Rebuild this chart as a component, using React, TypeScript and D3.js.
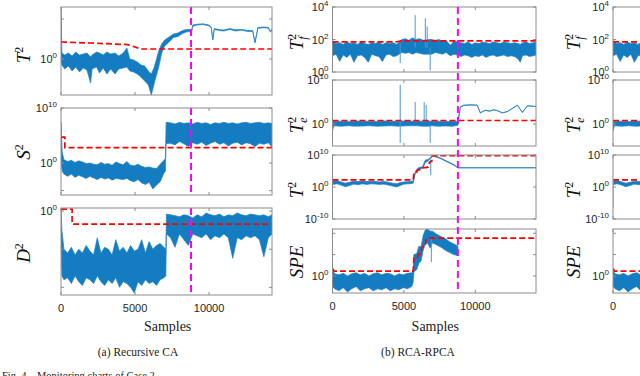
import React from 'react';
import * as d3 from 'd3';

// all values are log10 exponents: [sample, low, high]
const caT2Band = [
  [0, -0.2, 2.6], [60, -0.3, 0.3], [250, -0.5, 0.2], [500, -0.35, 0.3], [750, -0.6, 0.15],
  [1000, -0.4, 0.35], [1250, -0.65, 0.2], [1500, -0.45, 0.25], [1750, -0.55, 0.3], [2000, -1.2, 0.1],
  [2100, -0.5, 0.2], [2400, -0.4, 0.35], [2600, -0.7, 0.3], [2850, -0.45, 0.2], [3100, -0.75, 0.35],
  [3350, -0.5, 0.25], [3650, -0.75, 0.3], [3900, -0.5, 0.15], [4200, -0.45, 0.3], [4450, -0.4, 0.55],
  [4650, -0.6, 0.0], [4900, -0.65, -0.05], [5150, -0.75, -0.15], [5400, -0.9, -0.3], [5650, -1.1, -0.35],
  [5900, -1.3, -0.6], [6100, -1.8, -0.75], [6300, -1.2, -0.4], [6450, -0.8, 0.0], [6600, -0.4, 0.4],
  [6800, 0.3, 0.75], [7000, 0.65, 0.95], [7300, 0.85, 1.1], [7600, 1.08, 1.25], [7900, 1.12, 1.3],
  [8200, 1.27, 1.42], [8500, 1.36, 1.48], [8700, 1.37, 1.47], [8780, 1.22, 1.28], [8900, 1.64, 1.7],
  [9200, 1.7, 1.74], [9600, 1.72, 1.76], [10000, 1.66, 1.7], [10150, 1.54, 1.58], [10250, 0.95, 0.98],
  [10350, 1.48, 1.52], [10700, 1.42, 1.47], [11000, 1.4, 1.45], [11400, 1.48, 1.52], [11800, 1.4, 1.46],
  [12200, 1.44, 1.48], [12600, 1.38, 1.43], [12950, 1.38, 1.42], [13100, 0.8, 0.84], [13300, 1.54, 1.58],
  [13700, 1.56, 1.6], [14000, 1.54, 1.58], [14150, 1.34, 1.38], [14250, 1.46, 1.5],
];
const caT2Thr = [[0, 0.85], [2000, 0.8], [4500, 0.72], [5000, 0.6], [5400, 0.5], [14250, 0.5]];

const caS2Band = [
  [0, 0, 7.5], [80, -1.5, 2.0], [200, -2.0, 0.6], [450, -2.4, 0.3], [700, -2.0, 0.5],
  [950, -2.6, 0.1], [1200, -2.2, 0.4], [1450, -2.5, 0.2], [1700, -2.8, -0.1], [1950, -2.4, 0.0],
  [2200, -2.7, -0.2], [2450, -3.0, -0.3], [2700, -2.6, 0.1], [2950, -2.9, -0.2], [3200, -2.7, -0.1],
  [3450, -3.1, -0.4], [3700, -2.8, 0.2], [3950, -2.9, -0.1], [4200, -3.0, -0.3], [4450, -2.8, 0.3],
  [4700, -3.2, -0.4], [4950, -3.4, -0.5], [5200, -3.0, -0.2], [5450, -3.6, -0.6], [5700, -3.9, -0.8],
  [5950, -3.5, -0.7], [6200, -4.7, -0.9], [6450, -4.0, -1.0], [6700, -3.4, -0.2], [6950, -1.8, 0.5],
  [7050, -1.5, 0.8], [7100, 3.5, 7.4], [7400, 3.6, 7.3], [7700, 3.3, 7.1], [8000, 3.9, 7.4],
  [8300, 3.5, 7.2], [8600, 3.0, 7.3], [8900, 3.7, 7.1], [9200, 3.4, 7.4], [9500, 3.8, 7.2],
  [9800, 3.2, 7.3], [10100, 3.6, 7.0], [10400, 3.9, 7.3], [10700, 3.4, 7.2], [11000, 3.7, 7.4],
  [11300, 3.1, 7.2], [11600, 3.6, 7.3], [11900, 3.8, 7.1], [12200, 3.3, 7.3], [12500, 3.7, 7.4],
  [12800, 3.5, 7.2], [13100, 3.0, 7.3], [13400, 3.6, 7.4], [13700, 3.4, 7.2], [14000, 3.7, 7.3],
  [14250, 2.9, 7.2],
];
const caS2Thr = [[0, 4.7], [260, 4.7], [260, 2.8], [14250, 2.8]];

const caD2Band = [
  [0, -0.9, 0.08], [60, -1.7, -0.5], [200, -1.8, -1.0], [450, -1.75, -1.1], [700, -1.9, -0.95],
  [950, -1.7, -1.15], [1200, -1.85, -1.0], [1450, -1.95, -1.1], [1700, -1.75, -0.9], [1950, -1.8, -1.05],
  [2200, -1.9, -1.15], [2450, -1.7, -0.7], [2700, -1.85, -1.1], [2950, -1.95, -0.95], [3200, -1.8, -1.0],
  [3450, -1.9, -1.15], [3700, -1.75, -0.75], [3950, -2.0, -1.05], [4200, -1.85, -0.95], [4450, -1.9, -1.1],
  [4700, -2.0, -0.9], [4950, -2.15, -1.05], [5200, -1.85, -1.0], [5450, -1.95, -0.75], [5700, -1.8, -1.1],
  [5950, -1.9, -0.8], [6200, -1.85, -1.0], [6450, -1.95, -0.9], [6700, -1.8, -0.85], [6950, -1.75, -0.95],
  [7080, -1.7, -1.0], [7120, -0.6, -0.08], [7400, -0.7, -0.1], [7700, -0.95, -0.12], [8000, -0.6, -0.15],
  [8300, -0.75, -0.1], [8600, -0.9, -0.12], [8900, -0.6, -0.18], [9200, -0.65, -0.1], [9500, -0.7, -0.15],
  [9800, -0.6, -0.05], [10100, -0.75, -0.1], [10400, -0.65, -0.12], [10700, -0.7, -0.08], [11000, -0.6, -0.15],
  [11300, -0.7, -0.1], [11600, -1.24, -0.12], [11900, -0.7, -0.05], [12200, -0.75, -0.1], [12500, -0.65, -0.12],
  [12800, -0.7, -0.08], [13100, -0.65, -0.1], [13400, -0.75, -0.12], [13700, -1.2, -0.1], [14000, -0.7, -0.15],
  [14250, -0.6, -0.1],
];
const caD2Thr = [[0, 0.05], [750, 0.05], [750, -0.34], [14250, -0.34]];

const rpTfBand = [
  [0, 1.0, 1.95], [250, 1.1, 1.75], [500, 0.65, 1.8], [750, 1.05, 1.7], [1000, 0.9, 1.85],
  [1250, 1.1, 1.75], [1500, 0.6, 1.8], [1750, 1.0, 1.7], [2000, 1.05, 1.85], [2250, 0.9, 1.75],
  [2500, 0.6, 1.7], [2750, 1.1, 1.8], [3000, 1.0, 1.75], [3250, 0.95, 1.85], [3500, 0.65, 1.7],
  [3750, 1.05, 1.8], [4000, 1.1, 1.75], [4250, 0.95, 1.8], [4500, 1.0, 1.7], [4850, 1.2, 2.0],
  [5100, 1.15, 2.05], [5350, 1.2, 1.95], [5600, 1.1, 2.1], [5850, 1.2, 2.0], [6100, 1.15, 2.05],
  [6350, 1.1, 1.95], [6700, 1.1, 2.0], [6950, 1.1, 2.0], [7200, 1.2, 1.95], [7450, 1.15, 2.0],
  [7700, 1.1, 1.9], [7950, 1.2, 1.95], [8250, 1.0, 1.65], [8500, 1.1, 1.9], [8750, 1.05, 1.85],
  [9000, 0.95, 1.8], [9250, 1.05, 1.75], [9500, 1.0, 1.85], [9750, 0.9, 1.7], [10000, 1.0, 1.8],
  [10250, 0.95, 1.75], [10500, 1.05, 1.85], [10750, 0.9, 1.8], [11000, 1.0, 1.75], [11250, 1.05, 1.85],
  [11500, 0.95, 1.8], [11750, 1.0, 1.75], [12000, 1.05, 1.85], [12250, 0.95, 1.8], [12500, 1.0, 1.75],
  [12750, 0.95, 1.8], [13000, 0.8, 1.75], [13150, 0.6, 1.7], [13300, 1.0, 1.8], [13550, 1.05, 1.85],
  [13800, 0.95, 1.75], [14050, 1.0, 1.8], [14250, 1.05, 1.85],
];
const rpTfSpikes = [[4740, 0.55, 1.8], [5790, 1.5, 3.5], [6500, 1.5, 3.3], [6630, 1.5, 2.8], [6840, 0.1, 1.5]];
const rpTfThr = [[0, 1.85], [4500, 1.85], [4800, 1.92], [14250, 1.92]];

const rpTeBand = [
  [0, -1.5, 0.7], [100, -0.4, 0.6], [600, -0.5, 0.65], [1100, -0.4, 0.55], [1600, -0.5, 0.7],
  [2100, -0.45, 0.6], [2600, -0.4, 0.65], [3100, -0.5, 0.55], [3600, -0.45, 0.7], [4100, -0.4, 0.6],
  [4600, -0.5, 0.65], [5300, -0.4, 0.7], [5900, -0.4, 0.6], [6300, -0.5, 0.65], [6700, -0.5, 0.7],
  [6950, -0.4, 0.6], [7400, -0.5, 0.65], [7900, -0.45, 0.55], [8400, -0.5, 0.6], [8780, -0.3, 0.5],
  [8950, 3.8, 3.9], [9200, 4.22, 4.3], [9700, 4.3, 4.36], [10140, 4.24, 4.3], [10350, 2.5, 2.56],
  [10700, 3.1, 3.16], [11000, 2.9, 2.96], [11300, 3.2, 3.26], [11540, 3.0, 3.06], [11900, 2.5, 2.56],
  [12250, 2.8, 2.86], [12950, 4.24, 4.3], [13300, 2.6, 2.66], [13650, 4.1, 4.16], [14250, 3.95, 4.0],
];
const rpTeSpikes = [[4740, -4.3, 8.9], [5790, 0.5, 5.0], [6420, 0.5, 5.0], [6560, 0.5, 4.3], [6840, -4.3, -0.3]];
const rpTeThr = [[0, 0.8], [14250, 0.8]];

const rpT2Band = [
  [0, 0.6, 1.0], [50, 0.8, 1.9], [300, 1.0, 2.0], [600, 0.6, 1.6], [900, 0.1, 1.2],
  [1200, 0.5, 1.5], [1500, 0.9, 1.8], [1800, 0.7, 1.7], [2100, 1.0, 1.9], [2400, 0.8, 1.7],
  [2700, 1.0, 1.8], [3000, 0.9, 1.7], [3300, 0.8, 1.6], [3600, 0.9, 1.7], [3900, 0.6, 1.5],
  [4200, 0.3, 1.2], [4500, 0.0, 1.0], [4750, 0.5, 1.4], [5000, 0.9, 1.6], [5400, 1.0, 1.7],
  [5650, 1.2, 1.9], [5800, 4.3, 4.9], [6000, 5.5, 6.0], [6300, 5.8, 6.3], [6500, 7.6, 8.4],
  [6700, 8.2, 8.6], [6900, 9.0, 9.4], [7000, 9.7, 10.0], [7500, 9.0, 9.2], [8000, 7.9, 8.1],
  [8500, 6.8, 7.0], [8780, 5.95, 6.05], [14250, 5.95, 6.05],
];
const rpT2Spikes = [[0, -6.6, 1.0], [6880, 3.7, 8.5]];
const rpT2Thr = [
  [0, 2.2], [5650, 2.2], [5700, 4.4], [5900, 4.6], [5950, 5.3], [6200, 5.4], [6300, 6.0],
  [6700, 6.2], [6800, 7.8], [6950, 8.0], [7000, 9.8], [14250, 9.8],
];

const rpSpeBand = [
  [0, -0.5, 0.3], [150, -0.6, 0.1], [450, -0.7, 0.05], [750, -0.55, 0.12], [1050, -0.75, 0.0],
  [1350, -0.6, 0.1], [1650, -0.5, 0.15], [1950, -0.7, 0.05], [2250, -0.6, 0.12], [2550, -0.55, 0.0],
  [2850, -0.7, 0.1], [3150, -0.6, 0.15], [3450, -0.65, 0.05], [3750, -0.55, 0.12], [4050, -0.7, 0.1],
  [4350, -0.6, 0.0], [4650, -0.65, 0.1], [4950, -0.55, 0.05], [5250, -0.6, 0.12], [5550, -0.5, 0.15],
  [5650, -0.3, 0.2], [5700, 0.2, 1.0], [5900, 0.3, 1.05], [6050, 0.6, 1.4], [6200, 0.7, 1.35],
  [6350, 1.2, 1.9], [6500, 1.5, 2.15], [6650, 1.55, 2.2], [6840, 1.3, 2.1], [7000, 1.55, 2.1],
  [7300, 1.45, 1.95], [7600, 1.35, 1.85], [7900, 1.2, 1.75], [8200, 1.1, 1.6], [8500, 1.0, 1.5],
  [8780, 0.95, 1.4],
];
const rpSpeSpikes = [[6920, 0.65, 1.8]];
const rpSpeThr = [
  [0, 0.35], [100, 0.23], [5650, 0.23], [5700, 0.84], [5950, 0.84], [6000, 1.0], [6200, 1.05],
  [6250, 1.36], [6500, 1.4], [6550, 1.69], [6700, 1.7], [6750, 1.77], [14250, 1.77],
];

const faultSample = 8780;
const xTicks = [0, 5000, 10000];
const nSamples = 14250;

const BLUE = '#0072BD';
const AXIS = '#8c8c8c';
const SANS = 'Arial, Helvetica, "Liberation Sans", sans-serif';
const SERIF = '"Times New Roman", Times, "Liberation Serif", serif';

type Scale = d3.ScaleLinear<number, number>;

const Pow = ({ x, y, k }: { x: number; y: number; k: number }) => (
  <text x={x} y={y} textAnchor="end" fontFamily={SANS} fontSize={11} fill="#262626">
    10<tspan dy={-5} fontSize={8}>{k}</tspan>
  </text>
);

interface PanelProps {
  id: string;
  x: Scale;
  top: number;
  bottom: number;
  dom: number[];
  ticks: number[];
  labels: number[];
  band: number[][];
  spikes?: number[][];
  thr: number[][];
  vline?: boolean;
  xLabels?: boolean;
}

function Panel(p: PanelProps) {
  const x = p.x;
  const y = d3.scaleLinear().domain(p.dom).range([p.bottom, p.top]);
  const [xa, xb] = x.range();
  const area = d3.area<number[]>().x(d => x(d[0])).y0(d => y(d[1])).y1(d => y(d[2]));
  const line = d3.line<number[]>().x(d => x(d[0])).y(d => y(d[1]));
  return (
    <g>
      <defs>
        <clipPath id={p.id}>
          <rect x={xa} y={p.top} width={xb - xa} height={p.bottom - p.top} />
        </clipPath>
      </defs>
      <rect x={xa} y={p.top} width={xb - xa} height={p.bottom - p.top} fill="#fff" />
      <g clipPath={`url(#${p.id})`}>
        <path d={area(p.band) || ''} fill={BLUE} fillOpacity={0.92} stroke="#1f80c6" strokeWidth={0.7} strokeLinejoin="round" />
        {(p.spikes || []).map((s, i) => (
          <line key={i} x1={x(s[0])} x2={x(s[0])} y1={y(s[1])} y2={y(s[2])} stroke="#4a98d3" strokeWidth={1} />
        ))}
        <path d={line(p.thr) || ''} fill="none" stroke="#ff0000" strokeWidth={1.7} strokeDasharray="6,3" />
        {p.vline && (
          <line x1={x(faultSample)} x2={x(faultSample)} y1={p.top} y2={p.bottom}
            stroke="#ff00ff" strokeWidth={2} strokeDasharray="7,4" />
        )}
      </g>
      <rect x={xa} y={p.top} width={xb - xa} height={p.bottom - p.top} fill="none" stroke={AXIS} strokeWidth={1} />
      {xTicks.map(t => (
        <g key={t}>
          <line x1={x(t)} x2={x(t)} y1={p.top} y2={p.top + 3} stroke={AXIS} />
          <line x1={x(t)} x2={x(t)} y1={p.bottom} y2={p.bottom - 3} stroke={AXIS} />
          {p.xLabels && x(t) < 630 && (
            <text x={x(t)} y={p.bottom + 17} textAnchor="middle" fontFamily={SANS} fontSize={11} fill="#262626">{t}</text>
          )}
        </g>
      ))}
      {p.ticks.map(t => (
        <g key={t}>
          <line x1={xa} x2={xa + 3} y1={y(t)} y2={y(t)} stroke={AXIS} />
          <line x1={xb} x2={xb - 3} y1={y(t)} y2={y(t)} stroke={AXIS} />
        </g>
      ))}
      {p.labels.map(t => <Pow key={t} x={xa - 4} y={y(t) + 4} k={t} />)}
    </g>
  );
}

const YLabel = ({ x, y, sub, sup, base }: { x: number; y: number; sub?: string; sup?: string; base: string }) => (
  <text transform={`translate(${x},${y}) rotate(-90)`} textAnchor="middle" dy="0.35em"
    fontFamily={SERIF} fontStyle="italic" fontSize={19} fill="#111">
    {base}
    {sup && <tspan dy={-7} fontSize={12} fontStyle="normal">{sup}</tspan>}
    {sub && <tspan dx={-6} dy={11} fontSize={12}>{sub}</tspan>}
  </text>
);

export default function App() {
  const xa = d3.scaleLinear().domain([0, nSamples]).range([61, 272]);
  const xb = d3.scaleLinear().domain([0, nSamples]).range([332.5, 536]);
  const xc = d3.scaleLinear().domain([0, nSamples]).range([613, 816.5]);

  const rowsB = [
    { key: 'tf', top: 7, bottom: 72, dom: [0, 4], ticks: [0, 2, 4], labels: [4, 2, 0], band: rpTfBand, spikes: rpTfSpikes, thr: rpTfThr },
    { key: 'te', top: 80, bottom: 146, dom: [-5, 10], ticks: [0, 10], labels: [10, 0], band: rpTeBand, spikes: rpTeSpikes, thr: rpTeThr },
    { key: 't2', top: 155, bottom: 219, dom: [-10, 10], ticks: [-10, 0, 10], labels: [10, 0, -10], band: rpT2Band, spikes: rpT2Spikes, thr: rpT2Thr },
    { key: 'spe', top: 229, bottom: 293, dom: [-0.8, 2.2], ticks: [0, 1, 2], labels: [0], band: rpSpeBand, spikes: rpSpeSpikes, thr: rpSpeThr, xLabels: true },
  ];

  return (
    <svg width={640} height={376} style={{ position: 'absolute', left: 0, top: 0, background: '#fff' }}>
      {/* (a) recursive CA */}
      <Panel id="a1" x={xa} top={7} bottom={95} dom={[-1.8, 2.6]} ticks={[0, 2]} labels={[0]} band={caT2Band} thr={caT2Thr} vline />
      <Panel id="a2" x={xa} top={108} bottom={195} dom={[-5.8, 10]} ticks={[-5, 0, 10]} labels={[10, 0]} band={caS2Band} thr={caS2Thr} vline />
      <Panel id="a3" x={xa} top={208} bottom={295} dom={[-2.2, 0.08]} ticks={[-2, -1, 0]} labels={[0]} band={caD2Band} thr={caD2Thr} vline xLabels />
      <YLabel x={23} y={55} base="T" sup="2" />
      <YLabel x={23} y={152} base="S" sup="2" />
      <YLabel x={23} y={253} base="D" sup="2" />

      {/* (b) RCA-RPCA and the start of (c) */}
      {rowsB.map(r => (
        <Panel key={'b' + r.key} id={'b' + r.key} x={xb} top={r.top} bottom={r.bottom} dom={r.dom} ticks={r.ticks}
          labels={r.labels} band={r.band} spikes={r.spikes} thr={r.thr} xLabels={r.xLabels} />
      ))}
      <line x1={xb(faultSample)} x2={xb(faultSample)} y1={7} y2={293} stroke="#ff00ff" strokeWidth={2} strokeDasharray="7,4" />
      {rowsB.map(r => (
        <Panel key={'c' + r.key} id={'c' + r.key} x={xc} top={r.top} bottom={r.bottom} dom={r.dom} ticks={r.ticks}
          labels={r.labels} band={r.band} spikes={r.spikes} thr={r.thr} xLabels={r.xLabels} />
      ))}
      {[296, 573].map(lx => (
        <g key={lx}>
          <YLabel x={lx} y={42} base="T" sup="2" sub="f" />
          <YLabel x={lx} y={125} base="T" sup="2" sub="e" />
          <YLabel x={lx} y={190} base="T" sup="2" />
          <YLabel x={lx} y={262} base="SPE" />
        </g>
      ))}

      <text x={xa(7200)} y={331} textAnchor="middle" fontFamily={SERIF} fontSize={14} fill="#222">Samples</text>
      <text x={xb(7200)} y={331} textAnchor="middle" fontFamily={SERIF} fontSize={14} fill="#222">Samples</text>
      <text x={138} y={356} textAnchor="middle" fontFamily={SERIF} fontSize={11.5} fill="#222">(a) Recursive CA</text>
      <text x={418} y={356} textAnchor="middle" fontFamily={SERIF} fontSize={11.5} fill="#222">(b) RCA-RPCA</text>
      <text x={2} y={379} fontFamily={SERIF} fontSize={10.5} fill="#222">Fig. 4.{'\u00a0\u00a0\u00a0'}Monitoring charts of Case 2.</text>
    </svg>
  );
}
